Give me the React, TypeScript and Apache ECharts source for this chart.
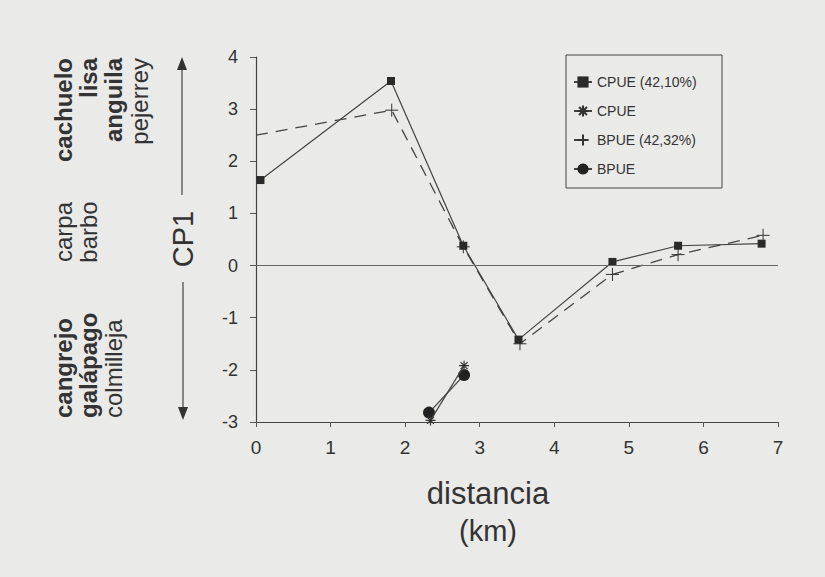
import React, { useEffect, useRef } from "react";
import * as echarts from "echarts";

// ---- data ----
const xTickMin = 0;
const xTickMax = 7;
const yTickMin = -3;
const yTickMax = 4;

const cpueX = [0.06, 1.81, 2.78, 3.52, 4.78, 5.66, 6.78];
const cpueY = [1.64, 3.54, 0.38, -1.42, 0.07, 0.38, 0.42];

const bpueX = [0.0, 1.82, 2.78, 3.54, 4.78, 5.66, 6.8];
const bpueY = [2.5, 2.98, 0.36, -1.5, -0.17, 0.21, 0.58];

const cpueLowX = [2.34, 2.79];
const cpueLowY = [-2.97, -1.92];

const bpueLowX = [2.32, 2.79];
const bpueLowY = [-2.82, -2.1];

const legendNames = ["CPUE (42,10%)", "CPUE", "BPUE (42,32%)", "BPUE"];

const topSpecies = ["cachuelo", "lisa", "anguila", "pejerrey"];
const topBold = [true, true, true, false];
const midSpecies = ["carpa", "barbo"];
const midBold = [false, false];
const lowSpecies = ["cangrejo", "galápago", "colmilleja"];
const lowBold = [true, true, false];

const yTitle = "CP1";
const xTitle = ["distancia", "(km)"];

const FONT = "'Liberation Sans', Arial, Helvetica, sans-serif";
const INK = "#333";

const pairs = (xs: number[], ys: number[]) => xs.map((x, i) => [x, ys[i]]);

const asterisk = "path://M5,0L5,10M0,5L10,5M1.5,1.5L8.5,8.5M8.5,1.5L1.5,8.5";
const plus = "path://M5,0L5,10M0,5L10,5";

export default function App() {
  const ref = useRef<HTMLDivElement>(null);

  useEffect(() => {
    if (!ref.current) return;
    const chart = echarts.init(ref.current, undefined, { renderer: "svg" });

    const colX = [63, 88, 113, 139];
    const speciesText = (names: string[], bold: boolean[], y: number, align: string) =>
      names.map((t, i) => ({
        type: "text",
        x: colX[i],
        y,
        rotation: Math.PI / 2,
        style: {
          text: t,
          fontSize: 24,
          fontWeight: bold[i] ? "bold" : "normal",
          fontFamily: FONT,
          fill: INK,
          align,
          verticalAlign: "middle",
        },
      }));

    const option: any = {
      animation: false,
      backgroundColor: "#eaeae8",
      grid: { left: 256, right: 47, top: 57, bottom: 155 },
      xAxis: {
        type: "value",
        min: xTickMin,
        max: xTickMax,
        interval: 1,
        axisLine: { show: true, onZero: false, lineStyle: { color: "#444", width: 1.2 } },
        axisTick: { show: true, length: 5, lineStyle: { color: "#555" } },
        splitLine: { show: false },
        axisLabel: { fontSize: 19, color: INK, margin: 16, fontFamily: FONT },
      },
      yAxis: {
        type: "value",
        min: yTickMin,
        max: yTickMax,
        interval: 1,
        axisLine: { show: true, onZero: false, lineStyle: { color: "#444", width: 1.2 } },
        axisTick: { show: true, length: 6, lineStyle: { color: "#555" } },
        splitLine: { show: false },
        axisLabel: { fontSize: 18, color: INK, margin: 18, fontFamily: FONT },
      },
      legend: {
        show: true,
        orient: "vertical",
        left: 573,
        top: 75,
        padding: 0,
        itemGap: 15,
        itemWidth: 18,
        itemHeight: 14,
        data: legendNames,
        textStyle: { fontSize: 14, color: INK, fontFamily: FONT },
      },
      series: [
        {
          name: legendNames[0],
          type: "line",
          data: pairs(cpueX, cpueY),
          symbol: "rect",
          symbolSize: 8,
          lineStyle: { color: "#444", width: 1.2 },
          itemStyle: { color: "#2a2a2a" },
          z: 3,
          markLine: {
            silent: true,
            symbol: "none",
            label: { show: false },
            lineStyle: { color: "#666", width: 1.2, type: "solid" },
            data: [{ yAxis: 0 }],
          },
        },
        {
          name: legendNames[1],
          type: "line",
          data: pairs(cpueLowX, cpueLowY),
          symbol: asterisk,
          symbolSize: 10,
          lineStyle: { color: "#444", width: 1.2 },
          itemStyle: { color: "#333", borderColor: "#333", borderWidth: 1.2 },
          z: 4,
        },
        {
          name: legendNames[2],
          type: "line",
          data: pairs(bpueX, bpueY).map((p, i) =>
            i === 0 ? { value: p, symbol: "none" } : { value: p }
          ),
          symbol: plus,
          symbolSize: 13,
          lineStyle: { color: "#444", width: 1.3, type: [12, 8] },
          itemStyle: { color: "#333", borderColor: "#333", borderWidth: 1 },
          z: 2,
        },
        {
          name: legendNames[3],
          type: "line",
          data: pairs(bpueLowX, bpueLowY),
          symbol: "circle",
          symbolSize: 12,
          lineStyle: { color: "#444", width: 1.3 },
          itemStyle: { color: "#222" },
          z: 3,
        },
      ],
      graphic: [
        {
          type: "rect",
          shape: { x: 566, y: 55, width: 156, height: 133 },
          style: { fill: "none", stroke: "#444", lineWidth: 1 },
        },
        ...speciesText(topSpecies, topBold, 58, "right"),
        ...speciesText(midSpecies, midBold, 232, "center"),
        ...speciesText(lowSpecies, lowBold, 418, "left"),
        {
          type: "text",
          x: 183,
          y: 239,
          rotation: Math.PI / 2,
          style: {
            text: yTitle,
            fontSize: 29,
            fontFamily: FONT,
            fill: INK,
            align: "center",
            verticalAlign: "middle",
          },
        },
        { type: "line", shape: { x1: 182, y1: 66, x2: 182, y2: 195 }, style: { stroke: "#444", lineWidth: 1.2 } },
        { type: "polygon", shape: { points: [[182, 57], [177, 70], [187, 70]] }, style: { fill: INK } },
        { type: "line", shape: { x1: 183, y1: 282, x2: 183, y2: 410 }, style: { stroke: "#444", lineWidth: 1.2 } },
        { type: "polygon", shape: { points: [[183, 420], [178, 407], [188, 407]] }, style: { fill: INK } },
        {
          type: "text",
          x: 488,
          y: 493,
          style: {
            text: xTitle[0],
            fontSize: 31,
            fontFamily: FONT,
            fill: INK,
            align: "center",
            verticalAlign: "middle",
          },
        },
        {
          type: "text",
          x: 488,
          y: 531,
          style: {
            text: xTitle[1],
            fontSize: 29,
            fontFamily: FONT,
            fill: INK,
            align: "center",
            verticalAlign: "middle",
          },
        },
      ],
    };

    chart.setOption(option);
    return () => chart.dispose();
  }, []);

  return (
    <div
      ref={ref}
      style={{ position: "fixed", left: 0, top: 0, width: 825, height: 577 }}
    />
  );
}
